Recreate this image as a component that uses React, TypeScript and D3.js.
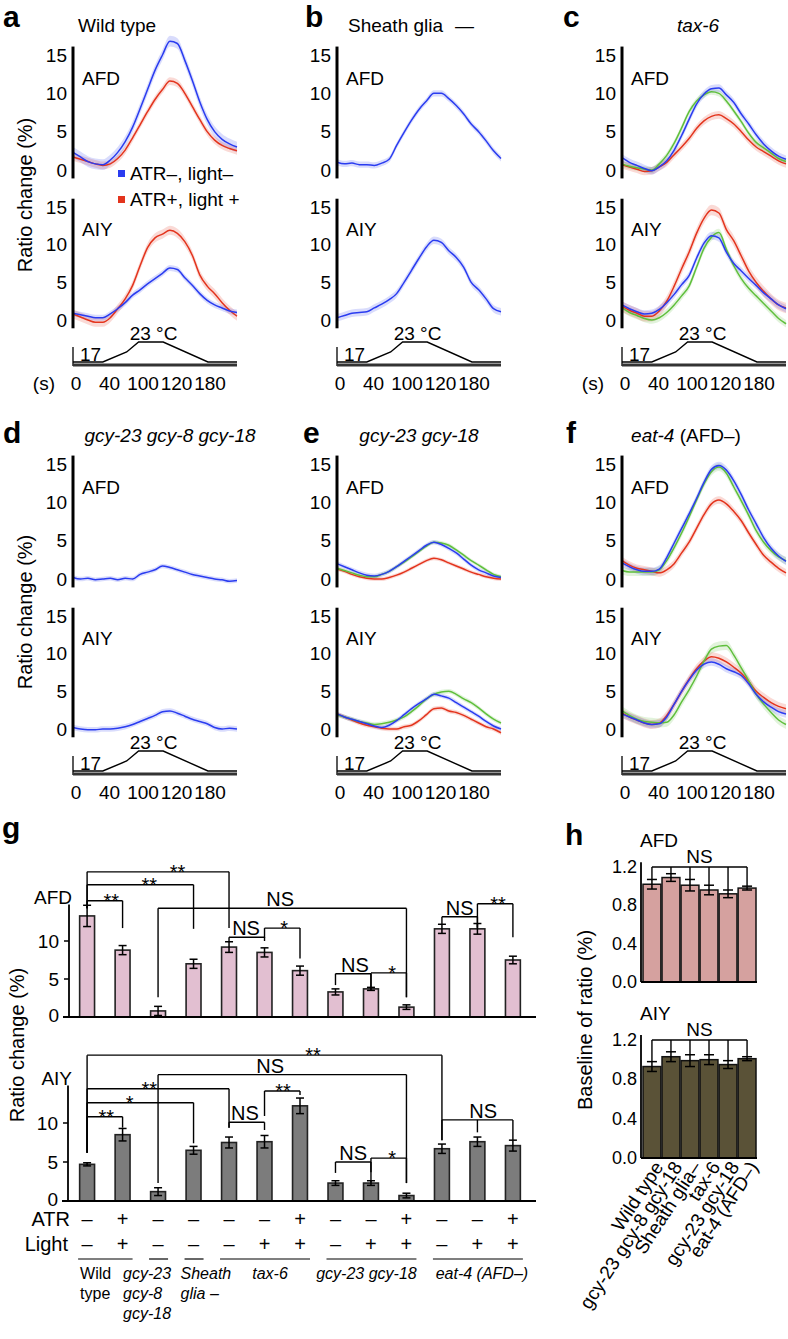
import React from "react";
import * as d3 from "d3";

const FONT = "'Liberation Sans', Arial, Helvetica, sans-serif";
const BLUE = "#2a3cf0";
const RED = "#e3341d";
const GREEN = "#5fbf3c";

// time grid of the calcium traces (s)
const times = [0, 10, 20, 30, 40, 50, 60, 70, 80, 90, 100, 110, 120, 130, 140, 150, 160, 170, 180, 190, 200, 210, 220];
const timeTickLabels = ["0", "40", "100", "120", "180"];
const tempTimes = [0, 40, 72, 88, 121, 181, 220];
const tempValues = [17, 17, 20, 23, 23, 17, 17];
const ratioTicks = [0, 5, 10, 15];

// a: wild type
const afdWtBlue = [2.3, 1.7, 1.1, 0.8, 0.7, 1.3, 2.3, 3.7, 5.6, 8.0, 10.5, 13.0, 15.0, 16.8, 16.5, 14.3, 11.7, 8.9, 6.6, 5.0, 4.0, 3.4, 3.0];
const afdWtRed = [1.7, 1.4, 1.1, 0.8, 0.6, 0.8, 1.5, 2.6, 4.2, 5.9, 7.6, 9.2, 10.5, 11.6, 11.3, 10.0, 8.3, 6.6, 5.0, 3.9, 3.2, 2.8, 2.5];
const aiyWtBlue = [0.9, 0.7, 0.5, 0.3, 0.3, 0.8, 1.5, 2.3, 3.3, 4.0, 4.8, 5.5, 6.2, 6.9, 6.7, 5.6, 4.6, 3.5, 2.6, 2.0, 1.6, 1.2, 1.0];
const aiyWtRed = [0.8, 0.4, 0.0, -0.3, -0.3, 0.3, 1.5, 2.8, 4.6, 7.2, 9.6, 10.9, 11.4, 11.9, 11.5, 10.4, 8.6, 6.0, 4.5, 3.5, 2.3, 1.3, 0.5];
// b: sheath glia ablated
const afdSgBlue = [1.0, 0.8, 0.9, 0.7, 0.7, 0.6, 0.9, 1.4, 3.2, 4.9, 6.5, 7.9, 9.0, 10.0, 10.0, 9.3, 8.4, 7.3, 6.0, 5.0, 3.8, 2.5, 1.5];
const aiySgBlue = [0.3, 0.6, 0.9, 1.0, 1.1, 1.6, 2.1, 2.7, 3.5, 5.0, 6.6, 8.2, 9.7, 10.6, 10.3, 9.2, 8.3, 7.0, 5.0, 4.0, 2.8, 1.5, 1.1];
// c: tax-6
const afdTaxBlue = [1.6, 1.0, 0.6, 0.2, -0.1, 0.4, 1.2, 2.6, 4.5, 6.6, 8.6, 9.9, 10.6, 10.7, 9.8, 8.8, 7.3, 6.0, 4.6, 3.4, 2.5, 1.8, 1.4];
const afdTaxGreen = [0.8, 0.5, 0.3, 0.1, 0.0, 0.8, 1.9, 3.5, 5.5, 7.6, 9.0, 9.8, 10.2, 10.0, 9.0, 7.7, 6.3, 4.8, 3.6, 2.9, 2.2, 1.5, 1.1];
const afdTaxRed = [0.7, 0.4, 0.1, -0.2, -0.1, 0.4, 1.0, 2.0, 3.0, 4.1, 5.4, 6.4, 7.0, 7.2, 6.7, 6.0, 5.0, 3.9, 3.0, 2.4, 1.8, 1.2, 0.8];
const aiyTaxBlue = [2.0, 1.5, 1.1, 0.8, 0.9, 1.4, 2.3, 3.4, 4.7, 5.9, 8.2, 10.2, 11.2, 10.9, 9.0, 7.5, 6.5, 5.5, 4.6, 3.6, 2.8, 2.0, 1.5];
const aiyTaxGreen = [1.6, 1.0, 0.6, 0.2, 0.0, 0.3, 1.0, 2.0, 3.2, 4.5, 7.0, 9.5, 11.0, 11.6, 9.4, 7.2, 5.5, 4.2, 3.2, 2.2, 1.2, 0.2, -0.5];
const aiyTaxRed = [1.8, 1.3, 0.9, 0.5, 0.5, 1.2, 2.5, 4.5, 6.8, 9.0, 11.5, 13.5, 14.6, 14.2, 12.0, 10.5, 8.5, 6.5, 5.0, 3.8, 2.8, 2.0, 1.6];
// d: gcy-23 gcy-8 gcy-18
const afdGcy3Blue = [0.2, 0.0, 0.1, -0.1, 0.0, 0.1, -0.1, 0.1, 0.0, 0.6, 0.9, 1.2, 1.7, 1.5, 1.2, 0.9, 0.6, 0.4, 0.2, 0.0, -0.1, -0.3, -0.2];
const aiyGcy3Blue = [0.2, 0.0, -0.1, -0.1, 0.0, 0.0, 0.1, 0.3, 0.6, 1.0, 1.4, 1.8, 2.3, 2.4, 2.1, 1.7, 1.3, 1.0, 0.7, 0.2, 0.0, 0.1, 0.0];
// e: gcy-23 gcy-18
const afdGcy2Blue = [2.0, 1.6, 1.2, 0.8, 0.5, 0.4, 0.6, 1.0, 1.6, 2.3, 3.0, 3.7, 4.4, 4.8, 4.5, 4.0, 3.4, 2.6, 1.8, 1.2, 0.8, 0.4, 0.2];
const afdGcy2Green = [1.4, 1.1, 0.8, 0.5, 0.3, 0.3, 0.6, 1.0, 1.6, 2.2, 2.9, 3.6, 4.3, 4.8, 4.7, 4.4, 3.8, 3.1, 2.4, 1.8, 1.2, 0.6, 0.3];
const afdGcy2Red = [1.3, 1.0, 0.6, 0.3, 0.1, 0.0, 0.0, 0.2, 0.5, 0.9, 1.4, 1.9, 2.4, 2.7, 2.5, 2.1, 1.7, 1.3, 0.9, 0.6, 0.3, 0.1, 0.0];
const aiyGcy2Blue = [2.0, 1.6, 1.3, 1.0, 0.7, 0.4, 0.2, 0.5, 1.1, 1.9, 2.7, 3.4, 4.0, 4.6, 4.4, 4.1, 3.5, 2.9, 2.3, 1.7, 1.0, 0.4, 0.0];
const aiyGcy2Green = [1.9, 1.6, 1.3, 1.0, 0.8, 0.6, 0.7, 0.9, 1.2, 1.6, 2.3, 3.1, 4.0, 4.6, 4.9, 5.0, 4.6, 4.0, 3.5, 2.8, 2.0, 1.3, 0.8];
const aiyGcy2Red = [2.0, 1.6, 1.2, 0.8, 0.5, 0.3, 0.1, 0.0, 0.0, 0.3, 0.5, 1.1, 1.9, 2.7, 2.8, 2.4, 2.2, 1.8, 1.3, 0.8, 0.3, 0.0, -0.5];
// f: eat-4
const afdEatBlue = [2.1, 1.6, 1.2, 1.0, 1.0, 1.3, 2.8, 4.7, 6.6, 8.5, 10.5, 12.6, 14.3, 14.8, 14.2, 12.8, 11.0, 9.0, 7.2, 5.4, 4.0, 3.0, 2.3];
const afdEatGreen = [1.1, 0.9, 0.9, 0.9, 0.9, 1.2, 2.4, 4.1, 6.0, 8.1, 10.3, 12.4, 14.0, 14.6, 13.8, 12.0, 10.2, 8.3, 6.3, 4.8, 3.7, 2.9, 2.4];
const afdEatRed = [2.4, 1.8, 1.4, 1.2, 1.0, 0.8, 1.2, 2.0, 3.4, 4.8, 6.6, 8.4, 9.8, 10.3, 9.8, 8.8, 7.6, 6.0, 4.5, 3.1, 2.2, 1.4, 0.8];
const aiyEatBlue = [2.0, 1.6, 1.2, 0.8, 0.6, 0.7, 1.6, 3.3, 5.0, 6.5, 7.8, 8.6, 8.9, 8.6, 8.0, 7.6, 7.1, 6.0, 4.6, 3.6, 2.9, 2.3, 2.0];
const aiyEatGreen = [2.4, 1.8, 1.3, 1.0, 0.9, 0.8, 0.9, 1.9, 3.6, 5.2, 7.0, 9.0, 10.6, 11.0, 11.1, 9.8, 8.1, 6.4, 4.6, 3.3, 2.2, 1.2, 0.6];
const aiyEatRed = [2.1, 1.6, 1.2, 0.8, 0.6, 0.8, 1.8, 3.3, 5.0, 6.6, 8.0, 9.0, 9.6, 9.4, 8.9, 8.2, 7.4, 6.3, 5.0, 4.2, 3.5, 3.0, 2.7];

// g: response amplitudes (13 conditions)
const afdBars = [13.3, 8.8, 0.8, 7.0, 9.2, 8.5, 6.1, 3.3, 3.7, 1.3, 11.6, 11.6, 7.5];
const afdErrs = [1.4, 0.6, 0.6, 0.6, 0.7, 0.6, 0.6, 0.4, 0.2, 0.3, 0.6, 0.7, 0.5];
const aiyBars = [4.7, 8.5, 1.2, 6.5, 7.5, 7.6, 12.2, 2.3, 2.3, 0.7, 6.7, 7.6, 7.1];
const aiyErrs = [0.2, 0.8, 0.5, 0.5, 0.7, 0.8, 1.0, 0.3, 0.3, 0.3, 0.6, 0.6, 0.7];
const atrSigns = ["–", "+", "–", "–", "–", "–", "+", "–", "–", "+", "–", "–", "+"];
const lightSigns = ["–", "+", "–", "–", "–", "+", "+", "–", "+", "+", "–", "+", "+"];
const gGroupNames = [["Wild", "type"], ["gcy-23", "gcy-8", "gcy-18"], ["Sheath", "glia –"], ["tax-6"], ["gcy-23 gcy-18"], ["eat-4 (AFD–)"]];
const gGroupFrom = [0, 2, 3, 4, 7, 10];
const gGroupTo = [1, 2, 3, 6, 9, 12];
const gGroupDx = [2, -26, -4, 5, -5, 4];

// legs: [bar index, leg bottom value], top: bracket height, lx: label position in bar units
const afdBrackets = [
  { legs: [[0, 14.3], [4, 11.7]], top: 19.1, label: "**", lx: 2.55 },
  { legs: [[0, 14.3], [3, 11.6]], top: 17.4, label: "**", lx: 1.75 },
  { legs: [[0, 14.3], [1, 11.7]], top: 15.3, label: "**", lx: 0.68 },
  { legs: [[2, 2.6], [9, 2.6]], top: 14.3, label: "NS", lx: 5.44 },
  { legs: [[4, 10.0], [5, 10.0]], top: 10.5, label: "NS", lx: 4.48 },
  { legs: [[5, 10.4], [6, 7.7]], top: 11.7, label: "*", lx: 5.55 },
  { legs: [[7, 4.2], [8, 3.8]], top: 5.7, label: "NS", lx: 7.55 },
  { legs: [[8, 3.6], [9, 2.6]], top: 5.8, label: "*", lx: 8.6 },
  { legs: [[10, 12.1], [11, 11.8]], top: 13.2, label: "NS", lx: 10.5 },
  { legs: [[11, 11.7], [12, 10.5]], top: 14.9, label: "**", lx: 11.58 },
];
const aiyBrackets = [
  { legs: [[0, 6.2], [10, 7.8]], top: 18.7, label: "**", lx: 6.37 },
  { legs: [[2, 2.3], [9, 2.3]], top: 16.2, label: "NS", lx: 5.16 },
  { legs: [[0, 6.2], [4, 9.4]], top: 14.4, label: "**", lx: 1.75 },
  { legs: [[0, 6.2], [3, 7.4]], top: 12.6, label: "*", lx: 1.2 },
  { legs: [[0, 6.2], [1, 9.4]], top: 10.8, label: "**", lx: 0.54 },
  { legs: [[4, 9.4], [5, 9.1]], top: 10.1, label: "NS", lx: 4.45 },
  { legs: [[5, 10.9], [6, 13.6]], top: 14.1, label: "**", lx: 5.52 },
  { legs: [[7, 3.6], [8, 3.7]], top: 5.0, label: "NS", lx: 7.5 },
  { legs: [[8, 2.4], [9, 2.3]], top: 5.5, label: "*", lx: 8.6 },
  { legs: [[10, 7.8], [11, 8.8], [12, 7.8]], top: 10.4, label: "NS", lx: 11.16 },
];

// h: baselines
const hNames = ["Wild type", "gcy-23 gcy-8 gcy-18", "Sheath glia–", "tax-6", "gcy-23 gcy-18", "eat-4 (AFD–)"];
const hAfd = [1.02, 1.09, 1.01, 0.96, 0.92, 0.98];
const hAfdErr = [0.05, 0.04, 0.06, 0.05, 0.04, 0.02];
const hAiy = [0.93, 1.03, 0.99, 1.0, 0.95, 1.01];
const hAiyErr = [0.05, 0.05, 0.06, 0.05, 0.04, 0.02];
const hTicks = [0, 0.4, 0.8, 1.2];

const colX = [73, 337, 622];
const rowY = [0, 409];

const tr = (values, color, sem) => ({ values, color, sem });
const panels = [
  { col: 0, row: 0, s: true, afd: [tr(afdWtRed, RED, 0.5), tr(afdWtBlue, BLUE, 0.7)], aiy: [tr(aiyWtRed, RED, 0.6), tr(aiyWtBlue, BLUE, 0.4)] },
  { col: 1, row: 0, s: false, afd: [tr(afdSgBlue, BLUE, 0.4)], aiy: [tr(aiySgBlue, BLUE, 0.5)] },
  { col: 2, row: 0, s: true, afd: [tr(afdTaxRed, RED, 0.5), tr(afdTaxGreen, GREEN, 0.4), tr(afdTaxBlue, BLUE, 0.5)], aiy: [tr(aiyTaxGreen, GREEN, 0.5), tr(aiyTaxRed, RED, 0.7), tr(aiyTaxBlue, BLUE, 0.5)] },
  { col: 0, row: 1, s: false, afd: [tr(afdGcy3Blue, BLUE, 0.3)], aiy: [tr(aiyGcy3Blue, BLUE, 0.35)] },
  { col: 1, row: 1, s: false, afd: [tr(afdGcy2Red, RED, 0.25), tr(afdGcy2Green, GREEN, 0.25), tr(afdGcy2Blue, BLUE, 0.3)], aiy: [tr(aiyGcy2Red, RED, 0.3), tr(aiyGcy2Green, GREEN, 0.3), tr(aiyGcy2Blue, BLUE, 0.3)] },
  { col: 2, row: 1, s: false, afd: [tr(afdEatRed, RED, 0.5), tr(afdEatGreen, GREEN, 0.5), tr(afdEatBlue, BLUE, 0.5)], aiy: [tr(aiyEatRed, RED, 0.6), tr(aiyEatGreen, GREEN, 0.6), tr(aiyEatBlue, BLUE, 0.5)] },
];

function TraceCell({ ax, zeroY, topY, name, traces }) {
  const x = d3.scaleLinear().domain([0, 220]).range([ax, ax + 164]);
  const y = d3.scaleLinear().domain([0, 15]).range([zeroY, topY]);
  const line = d3.line().x((_, i) => x(times[i])).y((v) => y(v)).curve(d3.curveMonotoneX);
  const area = (sem) =>
    d3.area().x((_, i) => x(times[i])).y0((v) => y(v - sem)).y1((v) => y(v + sem)).curve(d3.curveMonotoneX);
  return (
    <g>
      {traces.map((t, i) => (
        <path key={"b" + i} d={area(t.sem)(t.values)} fill={t.color} fillOpacity={0.18} />
      ))}
      {traces.map((t, i) => (
        <path key={"l" + i} d={line(t.values)} fill="none" stroke={t.color} strokeWidth={1.5} />
      ))}
      <line x1={ax} x2={ax} y1={y(16.1)} y2={y(-1.1)} stroke="#000" strokeWidth={3} />
      {ratioTicks.map((v) => (
        <text key={v} x={ax - 6} y={y(v)} textAnchor="end" dominantBaseline="central" fontSize={19}>
          {v}
        </text>
      ))}
      <text x={ax + 9} y={y(12)} dominantBaseline="central" fontSize={19}>
        {name}
      </text>
    </g>
  );
}

function TempCell({ ax, oy, showS }) {
  const x = d3.scaleLinear().domain([0, 220]).range([ax, ax + 164]);
  const y = d3.scaleLinear().domain([17, 23]).range([oy + 362, oy + 342]);
  const lab = d3.scalePoint().domain(timeTickLabels).range([ax + 3, ax + 137]);
  const line = d3.line().x((_, i) => x(tempTimes[i])).y((v) => y(v));
  return (
    <g>
      <line x1={ax} x2={ax} y1={oy + 347} y2={oy + 366} stroke="#000" strokeWidth={1.3} />
      <line x1={ax} x2={x(220)} y1={oy + 365} y2={oy + 365} stroke="#333" strokeWidth={3} />
      <path d={line(tempValues)} fill="none" stroke="#000" strokeWidth={1.4} />
      <text x={x(108)} y={oy + 340} textAnchor="middle" fontSize={19}>23 °C</text>
      <text x={ax + 7} y={oy + 361} fontSize={19}>17</text>
      {timeTickLabels.map((t) => (
        <text key={t} x={lab(t)} y={oy + 390} textAnchor="middle" fontSize={19}>{t}</text>
      ))}
      {showS && <text x={ax - 18} y={oy + 390} textAnchor="end" fontSize={19}>(s)</text>}
    </g>
  );
}

function ErrBar({ cx, y1, y2, w }) {
  return (
    <g stroke="#000" strokeWidth={1.5}>
      <line x1={cx} x2={cx} y1={y1} y2={y2} />
      <line x1={cx - w} x2={cx + w} y1={y1} y2={y1} />
      <line x1={cx - w} x2={cx + w} y1={y2} y2={y2} />
    </g>
  );
}

function GBars({ values, errs, y, fill, brackets, name, axisX }) {
  const xb = d3.scaleBand().domain(d3.range(values.length)).range([69, 531]).paddingInner(0.58).paddingOuter(0.3);
  const bw = xb.bandwidth();
  const cx = d3.scaleLinear().domain([0, 12]).range([xb(0) + bw / 2, xb(12) + bw / 2]);
  return (
    <g>
      {values.map((v, i) => (
        <rect key={i} x={xb(i)} y={y(v)} width={bw} height={y(0) - y(v)} fill={fill} stroke="#222" strokeWidth={1.6} />
      ))}
      {values.map((v, i) => (
        <ErrBar key={"e" + i} cx={cx(i)} y1={y(v - errs[i])} y2={y(v + errs[i])} w={4} />
      ))}
      {brackets.map((b, i) => {
        const xs = b.legs.map((l) => cx(l[0]));
        const star = b.label !== "NS";
        return (
          <g key={"br" + i}>
            <line x1={d3.min(xs)} x2={d3.max(xs)} y1={y(b.top)} y2={y(b.top)} stroke="#000" strokeWidth={1.4} />
            {b.legs.map((l, j) => (
              <line key={j} x1={cx(l[0])} x2={cx(l[0])} y1={y(b.top)} y2={y(l[1])} stroke="#000" strokeWidth={1.4} />
            ))}
            <text x={cx(b.lx)} y={y(b.top) + (star ? 7 : -2)} textAnchor="middle" fontSize={20}>
              {b.label}
            </text>
          </g>
        );
      })}
      <line x1={axisX} x2={axisX} y1={y(14.8)} y2={y(0)} stroke="#000" strokeWidth={1.8} />
      <line x1={axisX - 6} x2={536} y1={y(0)} y2={y(0)} stroke="#000" strokeWidth={1.8} />
      {[0, 5, 10].map((t) => (
        <g key={t}>
          <line x1={axisX - 5} x2={axisX} y1={y(t)} y2={y(t)} stroke="#000" strokeWidth={1.5} />
          <text x={axisX - 10} y={y(t) - (t === 0 ? 2 : 0)} textAnchor="end" dominantBaseline="central" fontSize={19}>{t}</text>
        </g>
      ))}
      <text x={72} y={y(15.7)} textAnchor="end" dominantBaseline="central" fontSize={19}>{name}</text>
    </g>
  );
}

function HBars({ values, errs, y, fill, name }) {
  const xb = d3.scaleBand().domain(d3.range(values.length)).range([643, 756]).paddingInner(0.06).paddingOuter(0);
  const bw = xb.bandwidth();
  const cx = (i) => xb(i) + bw / 2;
  const fmt = d3.format(".1f");
  return (
    <g>
      {values.map((v, i) => (
        <rect key={i} x={xb(i)} y={y(v)} width={bw} height={y(0) - y(v)} fill={fill} stroke="#111" strokeWidth={1.5} />
      ))}
      {values.map((v, i) => (
        <ErrBar key={"e" + i} cx={cx(i)} y1={y(v - errs[i])} y2={y(v + errs[i])} w={5} />
      ))}
      <line x1={cx(0)} x2={cx(values.length - 1)} y1={y(1.2)} y2={y(1.2)} stroke="#000" strokeWidth={1.4} />
      {values.map((v, i) => (
        <line key={"l" + i} x1={cx(i)} x2={cx(i)} y1={y(1.2)} y2={y(v + errs[i])} stroke="#000" strokeWidth={1.4} />
      ))}
      <text x={(cx(0) + cx(values.length - 1)) / 2} y={y(1.2) - 4} textAnchor="middle" fontSize={19}>NS</text>
      <line x1={641} x2={641} y1={y(1.25)} y2={y(0)} stroke="#000" strokeWidth={1.8} />
      <line x1={641} x2={757} y1={y(0)} y2={y(0)} stroke="#000" strokeWidth={1.8} />
      {hTicks.map((t) => (
        <text key={t} x={637} y={y(t)} textAnchor="end" dominantBaseline="central" fontSize={18}>{fmt(t)}</text>
      ))}
      <text x={640} y={y(1.2) - 20} fontSize={19}>{name}</text>
    </g>
  );
}

export default function App() {
  const yAfdG = d3.scaleLinear().domain([0, 15]).range([1017, 903]);
  const yAiyG = d3.scaleLinear().domain([0, 15]).range([1201, 1084]);
  const xbG = d3.scaleBand().domain(d3.range(13)).range([69, 531]).paddingInner(0.58).paddingOuter(0.3);
  const cG = (i) => xbG(i) + xbG.bandwidth() / 2;
  const yAfdH = d3.scaleLinear().domain([0, 1.2]).range([982, 867]);
  const yAiyH = d3.scaleLinear().domain([0, 1.2]).range([1158, 1040]);
  const xbH = d3.scaleBand().domain(d3.range(6)).range([643, 756]).paddingInner(0.06).paddingOuter(0);

  const letter = (t, x, y) => (
    <text x={x} y={y} fontSize={30} fontWeight="bold">{t}</text>
  );

  return (
    <svg
      width={788}
      height={1339}
      style={{ position: "absolute", left: 0, top: 0, background: "#fff" }}
      fontFamily={FONT}
    >
      <rect width={788} height={1339} fill="#fff" />
      {panels.map((p, i) => {
        const ax = colX[p.col];
        const oy = rowY[p.row];
        return (
          <g key={i}>
            <TraceCell ax={ax} zeroY={oy + 170} topY={oy + 55} name="AFD" traces={p.afd} />
            <TraceCell ax={ax} zeroY={oy + 320} topY={oy + 207} name="AIY" traces={p.aiy} />
            <TempCell ax={ax} oy={oy} showS={p.s} />
          </g>
        );
      })}

      {/* legend in a */}
      <rect x={118} y={170} width={7} height={7} fill={BLUE} />
      <text x={130} y={173.5} dominantBaseline="central" fontSize={19}>ATR–, light–</text>
      <rect x={118} y={196} width={7} height={7} fill={RED} />
      <text x={130} y={199.5} dominantBaseline="central" fontSize={19}>ATR+, light +</text>

      {/* panel letters and titles */}
      {letter("a", 3, 27)}
      {letter("b", 305, 27)}
      {letter("c", 563, 27)}
      {letter("d", 3, 443)}
      {letter("e", 303, 443)}
      {letter("f", 566, 443)}
      {letter("g", 2, 838)}
      {letter("h", 565, 845)}
      <text x={78} y={32} fontSize={19}>Wild type</text>
      <text x={348} y={32} fontSize={19}>
        Sheath glia<tspan dx={12}>—</tspan>
      </text>
      <text x={698} y={32} fontSize={19} textAnchor="middle" fontStyle="italic">tax-6</text>
      <text x={170} y={442} fontSize={19} textAnchor="middle" fontStyle="italic">gcy-23 gcy-8 gcy-18</text>
      <text x={419} y={442} fontSize={19} textAnchor="middle" fontStyle="italic">gcy-23 gcy-18</text>
      <text x={686} y={442} fontSize={19} textAnchor="middle">
        <tspan fontStyle="italic">eat-4</tspan> (AFD–)
      </text>

      {/* y labels */}
      <text transform="translate(25,195) rotate(-90)" textAnchor="middle" dominantBaseline="central" fontSize={20}>Ratio change (%)</text>
      <text transform="translate(25,612) rotate(-90)" textAnchor="middle" dominantBaseline="central" fontSize={20}>Ratio change (%)</text>
      <text transform="translate(17,1045) rotate(-90)" textAnchor="middle" dominantBaseline="central" fontSize={20}>Ratio change (%)</text>
      <text transform="translate(585,1020) rotate(-90)" textAnchor="middle" dominantBaseline="central" fontSize={20}>Baseline of ratio (%)</text>

      {/* g */}
      <GBars values={afdBars} errs={afdErrs} y={yAfdG} fill="#e2bfd1" brackets={afdBrackets} name="AFD" axisX={69} />
      <GBars values={aiyBars} errs={aiyErrs} y={yAiyG} fill="#7c7c7c" brackets={aiyBrackets} name="AIY" axisX={68} />
      <text x={70} y={1226} textAnchor="end" fontSize={20}>ATR</text>
      <text x={68} y={1251} textAnchor="end" fontSize={20}>Light</text>
      {atrSigns.map((s, i) => (
        <text key={"a" + i} x={cG(i)} y={1226} textAnchor="middle" fontSize={20}>{s}</text>
      ))}
      {lightSigns.map((s, i) => (
        <text key={"l" + i} x={cG(i)} y={1251} textAnchor="middle" fontSize={20}>{s}</text>
      ))}
      {gGroupNames.map((lines, g) => {
        const x1 = cG(gGroupFrom[g]) - 9;
        const x2 = cG(gGroupTo[g]) + 10;
        const multi = lines.length > 1;
        return (
          <g key={"g" + g}>
            <line x1={x1} x2={x2} y1={1259} y2={1259} stroke="#000" strokeWidth={1.2} />
            {lines.map((ln, k) => (
              <text
                key={k}
                x={multi ? x1 + gGroupDx[g] : (x1 + x2) / 2 + gGroupDx[g]}
                y={1279 + k * 20}
                textAnchor={multi ? "start" : "middle"}
                fontSize={16}
                fontStyle={g === 0 ? "normal" : "italic"}
              >
                {ln}
              </text>
            ))}
          </g>
        );
      })}

      {/* h */}
      <HBars values={hAfd} errs={hAfdErr} y={yAfdH} fill="#d5a19f" name="AFD" />
      <HBars values={hAiy} errs={hAiyErr} y={yAiyH} fill="#5a5237" name="AIY" />
      {hNames.map((n, i) => {
        const x = xbH(i) + xbH.bandwidth() / 2 + 12;
        return (
          <text key={n} transform={`translate(${x},1167) rotate(-57)`} textAnchor="end" fontSize={19}>
            {n}
          </text>
        );
      })}
    </svg>
  );
}
